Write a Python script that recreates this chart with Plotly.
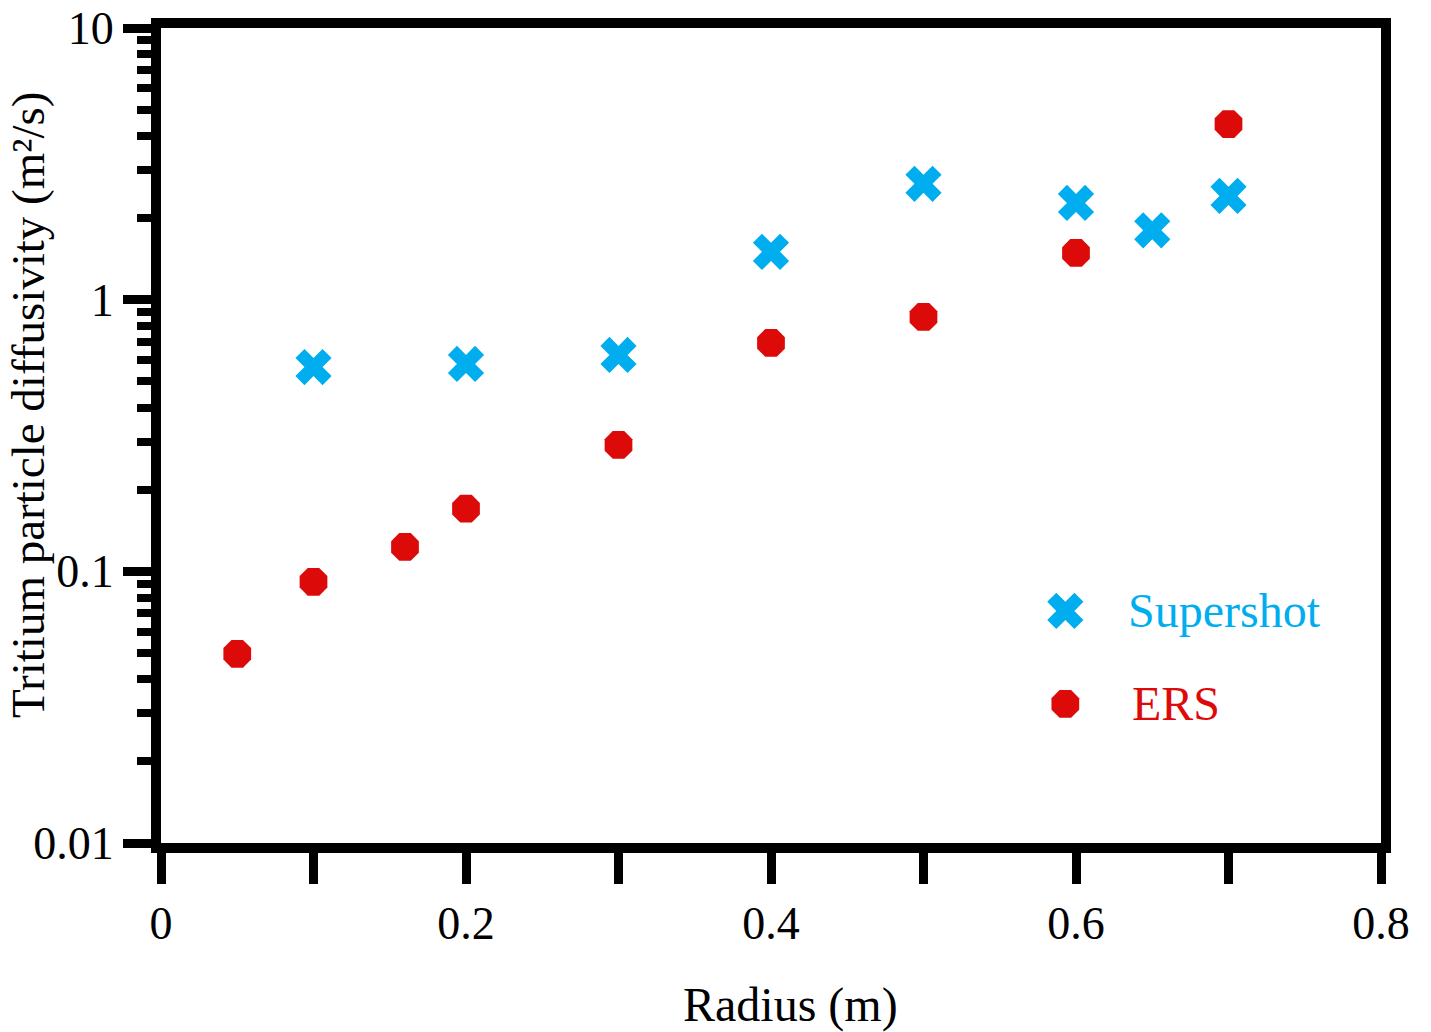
import plotly.graph_objects as go

supershot_r = [0.1, 0.2, 0.3, 0.4, 0.5, 0.6, 0.65, 0.7]
supershot_d = [0.565, 0.58, 0.626, 1.50, 2.67, 2.27, 1.80, 2.41]

ers_r = [0.05, 0.1, 0.16, 0.2, 0.3, 0.4, 0.5, 0.6, 0.7]
ers_d = [0.0497, 0.0915, 0.123, 0.170, 0.292, 0.693, 0.864, 1.486, 4.43]

x_tickvals = [0, 0.1, 0.2, 0.3, 0.4, 0.5, 0.6, 0.7, 0.8]
x_ticktext = ["0", "", "0.2", "", "0.4", "", "0.6", "", "0.8"]
y_tickvals = [0.01, 0.1, 1, 10]
y_ticktext = ["0.01", "0.1", "1", "10"]
y_minor = [m * d for d in [0.01, 0.1, 1] for m in range(2, 10)]

# legend key positions (in data units, drawn inside the plot like the original)
legend_key_x = [0.593, 0.593]
legend_key_y = [0.0715, 0.0325]
legend_names = ["Supershot", "ERS"]

BLUE = "#00AEEF"
RED = "#DD0A0A"
FONT = "Liberation Serif"

fig = go.Figure()
fig.add_trace(go.Scatter(
    x=supershot_r, y=supershot_d, mode="markers", name="Supershot",
    marker=dict(symbol="x", size=32, color=BLUE, line=dict(width=0)),
))
fig.add_trace(go.Scatter(
    x=ers_r, y=ers_d, mode="markers", name="ERS",
    marker=dict(symbol="octagon", size=30, color=RED, line=dict(width=0)),
))
# legend keys
fig.add_trace(go.Scatter(
    x=legend_key_x[:1], y=legend_key_y[:1], mode="markers", hoverinfo="skip",
    marker=dict(symbol="x", size=32, color=BLUE, line=dict(width=0)),
))
fig.add_trace(go.Scatter(
    x=legend_key_x[1:], y=legend_key_y[1:], mode="markers", hoverinfo="skip",
    marker=dict(symbol="octagon", size=30, color=RED, line=dict(width=0)),
))

fig.add_annotation(text=legend_names[0], xref="paper", yref="paper",
                   x=0.791, y=0.2847, xanchor="left", yanchor="middle",
                   showarrow=False, font=dict(size=48, color=BLUE, family=FONT))
fig.add_annotation(text=legend_names[1], xref="paper", yref="paper",
                   x=0.7946, y=0.1706, xanchor="left", yanchor="middle",
                   showarrow=False, font=dict(size=48, color=RED, family=FONT))

# axis titles
fig.add_annotation(text="Radius (m)", xref="paper", yref="paper",
                   x=0.5156, y=-0.199, xanchor="center", yanchor="middle",
                   showarrow=False, font=dict(size=48, color="black", family=FONT))
fig.add_annotation(text="Tritium particle diffusivity (m²/s)", xref="paper", yref="paper",
                   x=-0.1085, y=0.537, xanchor="center", yanchor="middle", textangle=-90,
                   showarrow=False, font=dict(size=47, color="black", family=FONT))

fig.update_layout(
    width=1431, height=1032,
    margin=dict(l=161, r=50, t=28, b=189),
    paper_bgcolor="white", plot_bgcolor="white",
    font=dict(family=FONT, size=46, color="black"),
    showlegend=False,
)
fig.update_xaxes(
    range=[0, 0.8], tickmode="array", tickvals=x_tickvals, ticktext=x_ticktext,
    showline=True, linewidth=10, linecolor="black", mirror=True,
    ticks="outside", ticklen=31, tickwidth=9, tickcolor="black",
    showgrid=False, zeroline=False, automargin=False,
    tickfont=dict(size=46),
)
fig.update_yaxes(
    type="log", range=[-2, 1], tickmode="array", tickvals=y_tickvals, ticktext=y_ticktext,
    showline=True, linewidth=10, linecolor="black", mirror=True,
    ticks="outside", ticklen=28, tickwidth=9, tickcolor="black",
    minor=dict(tickmode="array", tickvals=y_minor, ticks="outside", ticklen=14,
               tickwidth=8, tickcolor="black", showgrid=False),
    showgrid=False, zeroline=False, automargin=False,
    tickfont=dict(size=46),
)

fig.write_html("out.html")
